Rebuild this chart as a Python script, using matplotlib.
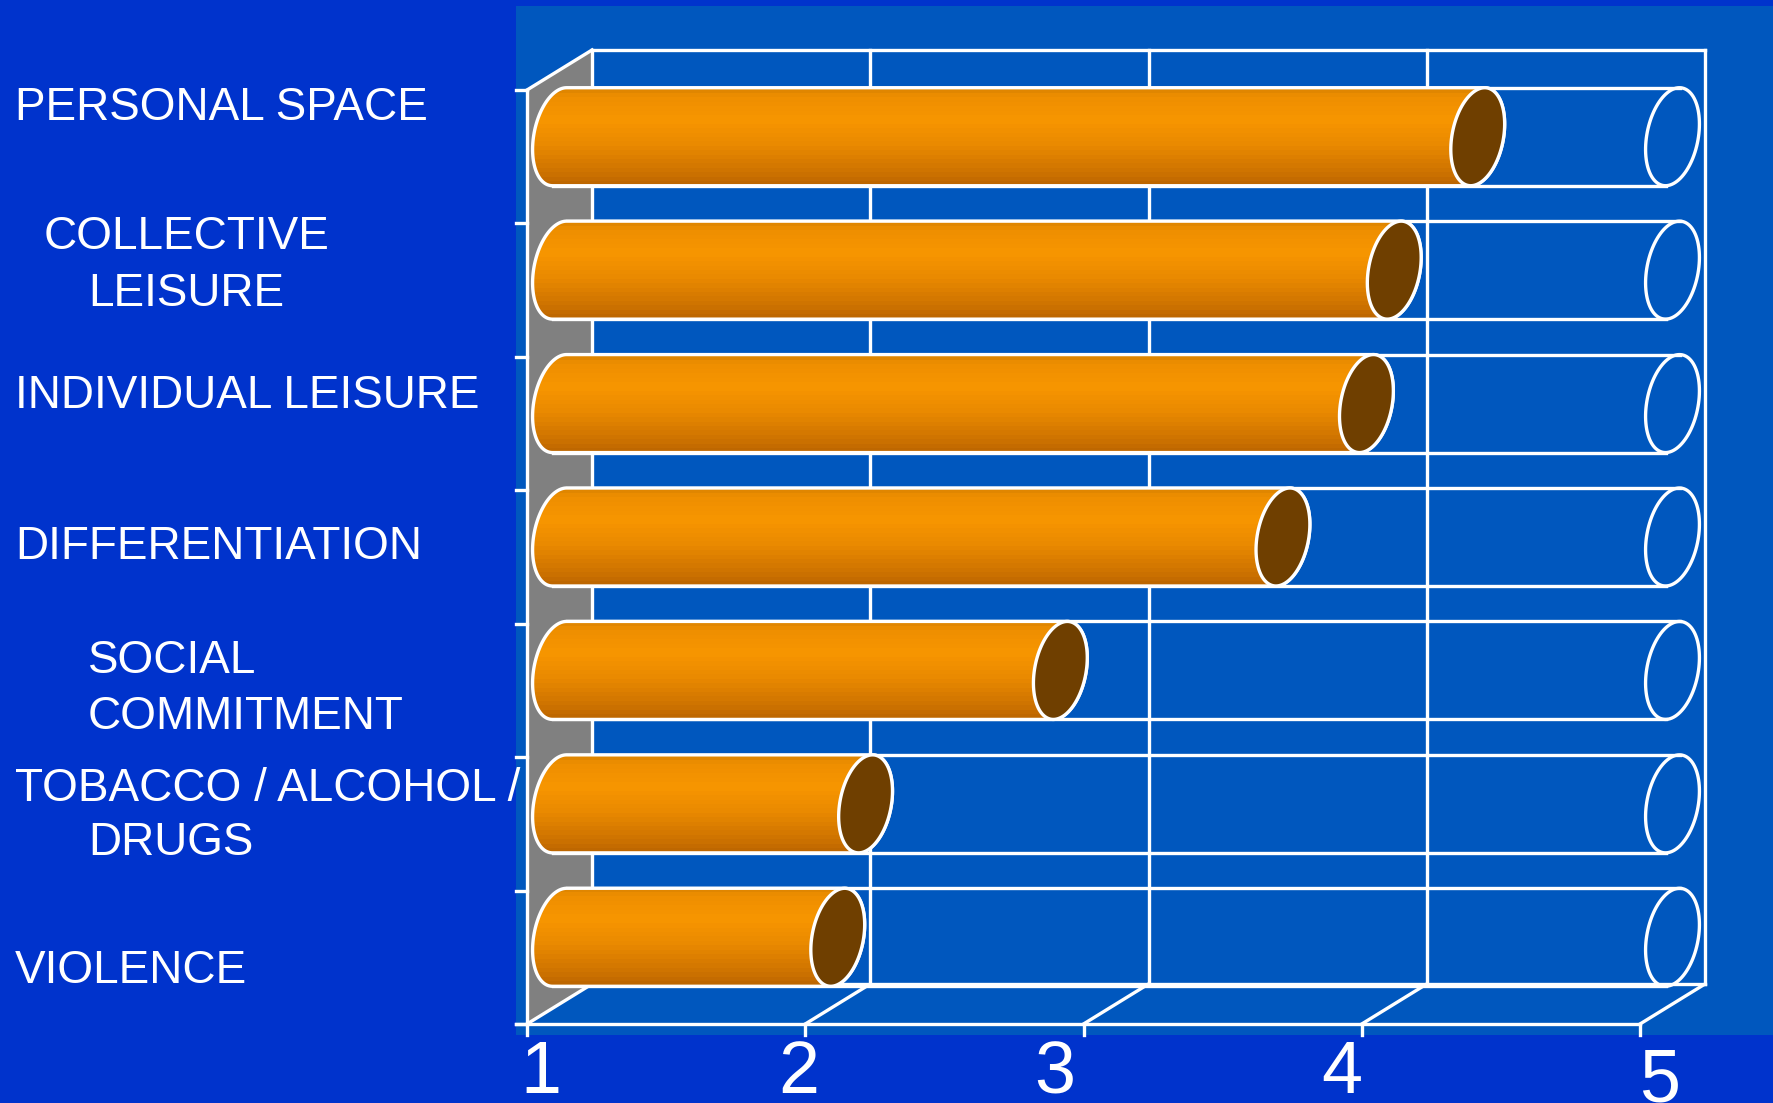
import numpy as np
import matplotlib
matplotlib.use("Agg")
import matplotlib.pyplot as plt
from matplotlib.patches import Polygon, Rectangle
from matplotlib.colors import to_rgb

plt.rcParams['font.family'] = ['Liberation Sans', 'DejaVu Sans']

# data
categories = ["PERSONAL SPACE", "COLLECTIVE\nLEISURE", "INDIVIDUAL LEISURE",
              "DIFFERENTIATION", "SOCIAL\nCOMMITMENT",
              "TOBACCO / ALCOHOL /\nDRUGS", "VIOLENCE"]
values = [4.3, 4.0, 3.9, 3.6, 2.8, 2.1, 2.0]
x_ticks = [1, 2, 3, 4, 5]
x_tick_labels = ["1", "2", "3", "4", "5"]

# layout (pixels in the 1773x1103 picture)
W, H = 1773, 1103
label_pos = [[(15, 120)], [(44, 249), (88, 306)], [(15, 408)], [(15, 559)],
             [(88, 673), (88, 729)], [(15, 801), (88, 855)], [(15, 983)]]
tick_off = [(14, 69), (-7, 69), (-29, 69), (-20, 69), (20, 77)]

BG = "#0033CC"
PANEL = "#0057BE"
GRAY = "#808080"
BROWN = "#6F3F00"
WHITE = "white"
LW = 2.4

fig = plt.figure(figsize=(W / 100, H / 100), dpi=100, facecolor=BG)
fig.patches.append(Rectangle((516 / W, 1 - 1035 / H), (W - 516) / W, (1035 - 6) / H,
                             transform=fig.transFigure, facecolor=PANEL,
                             edgecolor="none", zorder=-10))

ax = fig.add_axes([0, 0, 1, 1])
ax.set_facecolor("none")
ax.axis("off")
ax.set_zorder(1)
ux = 278.25                 # px per value unit
n = len(categories)
uy = (1024 - 90) / n        # px per category band
ax.set_xlim(1 - 527 / ux, 1 + (W - 527) / ux)
ax.set_ylim(-(H - 1024) / uy, 1024 / uy)
ax.set_autoscale_on(False)

xmin, xmax = x_ticks[0], x_ticks[-1]
dx, dy = 65 / ux, 40 / uy   # depth of the box

# left wall
ax.add_patch(Polygon([(xmin, 0), (xmin, n), (xmin + dx, n + dy), (xmin + dx, dy)],
                     closed=True, facecolor=GRAY, edgecolor="none", zorder=1))
# back wall grid
for v in x_ticks:
    ax.plot([v + dx, v + dx], [dy, n + dy], color=WHITE, lw=LW, zorder=2)
    ax.plot([v, v + dx], [0, dy], color=WHITE, lw=LW, zorder=2)
    ax.plot([v, v], [0, -11 / uy], color=WHITE, lw=LW, zorder=2)
ax.plot([xmin + dx, xmax + dx], [n + dy, n + dy], color=WHITE, lw=LW, zorder=2)
ax.plot([xmin + dx, xmax + dx], [dy, dy], color=WHITE, lw=LW, zorder=2)
ax.plot([xmin - 11 / ux, xmax], [0, 0], color=WHITE, lw=LW, zorder=2)
ax.plot([xmin, xmin], [0, n], color=WHITE, lw=LW, zorder=2)
ax.plot([xmin, xmin + dx], [n, n + dy], color=WHITE, lw=LW, zorder=2)
for j in range(n + 1):
    ax.plot([xmin - 11 / ux, xmin], [j, j], color=WHITE, lw=LW, zorder=2)

# cylinder shape
rx, k, ry = 26 / ux, 7 / ux, 49 / uy


def ellipse(cx, cy, t):
    return np.column_stack([cx + rx * np.cos(t) + k * np.sin(t), cy + ry * np.sin(t)])


stops = [0, 0.06, 0.3, 0.55, 0.8, 0.93, 1]
cols = ["#E08600", "#EE8E00", "#F89600", "#EA8A00", "#D27600", "#C26A00", "#B86300"]
tq = (np.floor(np.linspace(0, 1, 200) * 22) / 22)
rgb = np.array([to_rgb(c) for c in cols])
grad = np.stack([np.interp(tq, stops, rgb[:, i]) for i in range(3)], axis=1)[:, None, :]

for i, (cat, val) in enumerate(zip(categories, values)):
    cy = n - i - 0.5 + dy / 2
    xl = xmin + dx / 2
    xe = xmax + dx / 2
    xv = val + dx / 2
    # empty part of the cylinder
    ax.plot([xl + k, xe + k], [cy + ry, cy + ry], color=WHITE, lw=LW, zorder=3)
    ax.plot([xl - k, xe - k], [cy - ry, cy - ry], color=WHITE, lw=LW, zorder=3)
    end = ellipse(xe, cy, np.linspace(0, 2 * np.pi, 100))
    ax.add_patch(Polygon(end, closed=True, facecolor="none", edgecolor=WHITE, lw=LW, zorder=3))
    # filled body
    left = ellipse(xl, cy, np.linspace(np.pi / 2, 3 * np.pi / 2, 60))
    right = ellipse(xv, cy, np.linspace(-np.pi / 2, np.pi / 2, 60))
    body = Polygon(np.vstack([left, right]), closed=True, facecolor="none",
                   edgecolor=WHITE, lw=LW, zorder=5)
    ax.add_patch(body)
    im = ax.imshow(grad, extent=[xl - rx - k, xv + rx + k, cy - ry, cy + ry],
                   aspect="auto", origin="upper", zorder=4, interpolation="nearest")
    im.set_clip_path(body)
    cap = ellipse(xv, cy, np.linspace(0, 2 * np.pi, 100))
    ax.add_patch(Polygon(cap, closed=True, facecolor=BROWN, edgecolor=WHITE, lw=LW, zorder=6))

    for line, (px, py) in zip(cat.split("\n"), label_pos[i]):
        fig.text(px / W, 1 - py / H, line, color=WHITE, fontsize=33,
                 ha="left", va="baseline")

for v, lbl, (ox, oy) in zip(x_ticks, x_tick_labels, tick_off):
    ax.annotate(lbl, xy=(v, 0), xytext=(ox, -oy), textcoords="offset pixels",
                ha="center", va="baseline", color=WHITE, fontsize=53)

fig.savefig("out.png", dpi=100, facecolor=BG)
